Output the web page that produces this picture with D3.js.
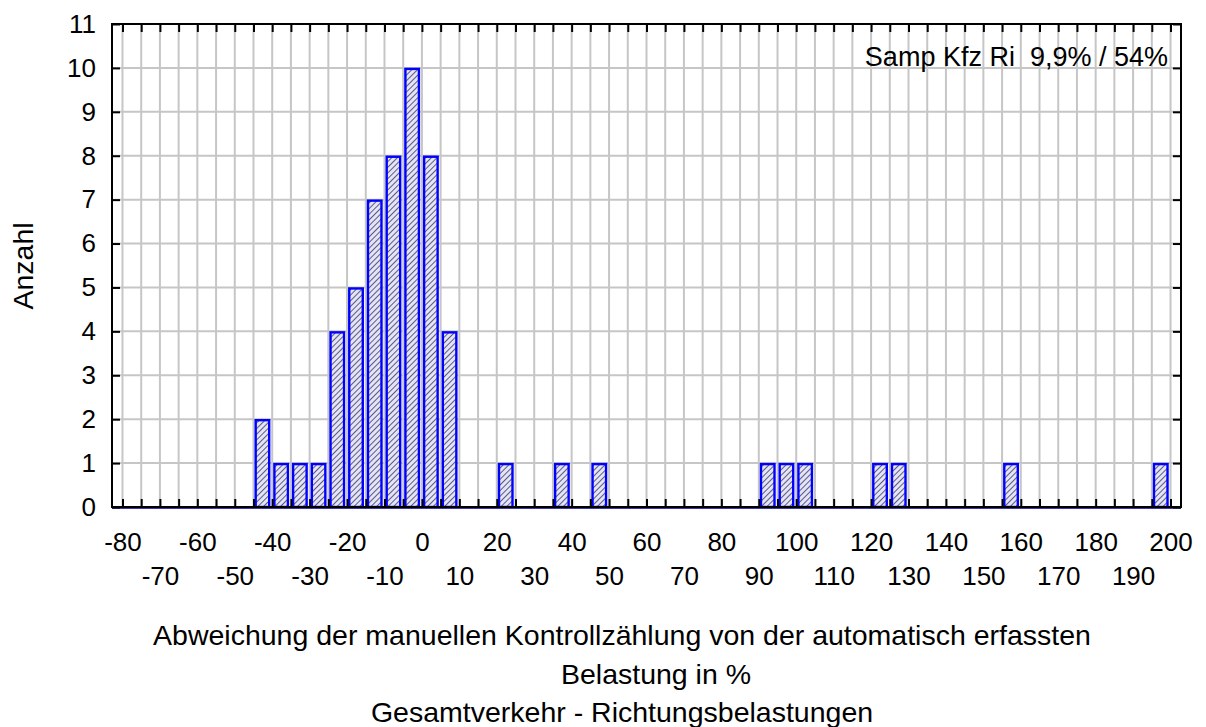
<!DOCTYPE html>
<html>
<head>
<meta charset="utf-8">
<script src="https://cdn.jsdelivr.net/npm/d3@7"></script>
<style>
  html, body { margin: 0; padding: 0; background: #fff; }
  svg { display: block; font-family: "Liberation Sans", Arial, sans-serif; }
</style>
</head>
<body>
<svg id="chart" width="1206" height="727"></svg>
<script>
// Histogram bins: lower edge (in %) and count, bin width 5 %
const binStarts = [-45, -40, -35, -30, -25, -20, -15, -10, -5, 0, 5, 20, 35, 45, 90, 95, 100, 120, 125, 155, 195];
const binCounts = [2, 1, 1, 1, 4, 5, 7, 8, 10, 8, 4, 1, 1, 1, 1, 1, 1, 1, 1, 1, 1];
const binWidth = 5;

// Axis labels
const xLabelsRow1 = [-80, -60, -40, -20, 0, 20, 40, 60, 80, 100, 120, 140, 160, 180, 200];
const xLabelsRow2 = [-70, -50, -30, -10, 10, 30, 50, 70, 90, 110, 130, 150, 170, 190];
const yTicks = [0, 1, 2, 3, 4, 5, 6, 7, 8, 9, 10, 11];

const annotation = "Samp Kfz Ri  9,9% / 54%";
const yTitle = "Anzahl";
const xTitleLines = [
  "Abweichung der manuellen Kontrollzählung von der automatisch erfassten",
  "Belastung in %",
  "Gesamtverkehr - Richtungsbelastungen"
];

const svg = d3.select("#chart");
const plotL = 112, plotR = 1181, plotT = 24, plotB = 507;
const tickFont = 26, noteFont = 27, titleFont = 28.5;

const x = d3.scaleLinear().domain([-82.8, 202.8]).range([plotL, plotR]);
const y = d3.scaleLinear().domain([0, 11]).range([plotB, plotT]);

const gridX = d3.range(-80, 201, 5);
const gridY = d3.range(1, 11, 1);

// Hatch pattern for bar fill
const defs = svg.append("defs");
const pat = defs.append("pattern")
  .attr("id", "hatch")
  .attr("patternUnits", "userSpaceOnUse")
  .attr("width", 4).attr("height", 4)
  .attr("patternTransform", "rotate(45)");
pat.append("rect").attr("width", 4).attr("height", 4).attr("fill", "#e4e4f2");
pat.append("line").attr("x1", 0).attr("y1", 0).attr("x2", 0).attr("y2", 4)
  .attr("stroke", "#2a2a6a").attr("stroke-width", 1.5);

// Grid
svg.append("g").attr("class", "grid-x")
  .selectAll("line").data(gridX).join("line")
  .attr("x1", d => x(d)).attr("x2", d => x(d))
  .attr("y1", plotT).attr("y2", plotB)
  .attr("stroke", "#c6c6c6").attr("stroke-width", 2);
svg.append("g").attr("class", "grid-y")
  .selectAll("line").data(gridY).join("line")
  .attr("x1", plotL).attr("x2", plotR)
  .attr("y1", d => y(d)).attr("y2", d => y(d))
  .attr("stroke", "#c6c6c6").attr("stroke-width", 2);

// Bars
const bins = binStarts.map((s, i) => ({ x0: s, x1: s + binWidth, n: binCounts[i] }));
svg.append("g").attr("class", "bars")
  .selectAll("rect").data(bins).join("rect")
  .attr("x", d => x(d.x0) + 2.2)
  .attr("width", d => x(d.x1) - x(d.x0) - 5.2)
  .attr("y", d => y(d.n) + 1)
  .attr("height", d => y(0) - y(d.n) - 1)
  .attr("fill", "url(#hatch)")
  .attr("stroke", "#0000ff")
  .attr("stroke-width", 2.4);

// Thin blue base line under the frame
svg.append("line")
  .attr("x1", plotL).attr("x2", plotR)
  .attr("y1", plotB + 1.5).attr("y2", plotB + 1.5)
  .attr("stroke", "#3a3ab0").attr("stroke-width", 1);

// Inward tick marks on all four sides
function styleTicks(g) {
  g.select(".domain").remove();
  g.selectAll("line").attr("stroke", "#000").attr("stroke-width", 2);
}
svg.append("g").attr("transform", `translate(0,${plotB})`)
  .call(d3.axisBottom(x).tickValues(gridX).tickSize(-8).tickFormat(""))
  .call(styleTicks);
svg.append("g").attr("transform", `translate(0,${plotT})`)
  .call(d3.axisTop(x).tickValues(gridX).tickSize(-8).tickFormat(""))
  .call(styleTicks);
svg.append("g").attr("transform", `translate(${plotL},0)`)
  .call(d3.axisLeft(y).tickValues(yTicks).tickSize(-8).tickFormat(""))
  .call(styleTicks);
svg.append("g").attr("transform", `translate(${plotR},0)`)
  .call(d3.axisRight(y).tickValues(yTicks).tickSize(-8).tickFormat(""))
  .call(styleTicks);

// Frame
svg.append("rect")
  .attr("x", plotL).attr("y", plotT)
  .attr("width", plotR - plotL).attr("height", plotB - plotT)
  .attr("fill", "none").attr("stroke", "#000").attr("stroke-width", 2);

// Tick labels (plain hyphen for negatives)
const fmt = d => String(d);
function styleLabels(g) {
  g.select(".domain").remove();
  g.selectAll("line").remove();
  g.selectAll("text").attr("font-size", tickFont).attr("fill", "#000")
    .attr("font-family", "Liberation Sans, Arial, sans-serif");
}
svg.append("g").attr("transform", `translate(0,${plotB})`)
  .call(d3.axisBottom(x).tickValues(xLabelsRow1).tickSize(0).tickPadding(26).tickFormat(fmt))
  .call(styleLabels);
svg.append("g").attr("transform", `translate(0,${plotB})`)
  .call(d3.axisBottom(x).tickValues(xLabelsRow2).tickSize(0).tickPadding(60).tickFormat(fmt))
  .call(styleLabels);
svg.append("g").attr("transform", `translate(${plotL},0)`)
  .call(d3.axisLeft(y).tickValues(yTicks).tickSize(0).tickPadding(16).tickFormat(fmt))
  .call(styleLabels);

// Annotation in the upper right corner
svg.append("text")
  .attr("x", 1168).attr("y", 66)
  .attr("text-anchor", "end")
  .attr("font-size", noteFont)
  .style("white-space", "pre")
  .text(annotation);

// Axis titles
svg.append("text")
  .attr("transform", `translate(33,266) rotate(-90)`)
  .attr("text-anchor", "middle")
  .attr("font-size", titleFont)
  .text(yTitle);

const titleX = [622, 656, 622];
const titleY = [645, 683.5, 722];
svg.append("g").selectAll("text").data(xTitleLines).join("text")
  .attr("x", (d, i) => titleX[i])
  .attr("y", (d, i) => titleY[i])
  .attr("text-anchor", "middle")
  .attr("font-size", titleFont)
  .text(d => d);
</script>
</body>
</html>
